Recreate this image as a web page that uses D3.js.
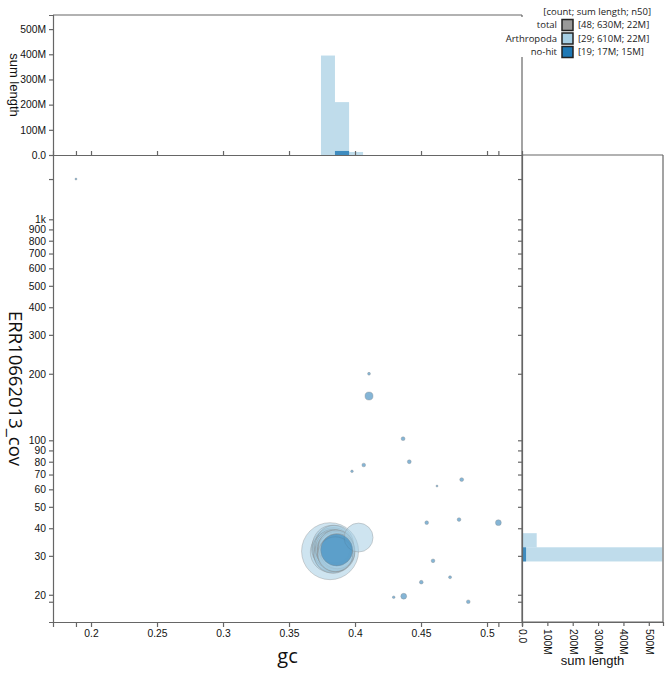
<!DOCTYPE html>
<html>
<head>
<meta charset="utf-8">
<script src="https://cdnjs.cloudflare.com/ajax/libs/d3/7.8.5/d3.min.js"></script>
<style>
  body { margin: 0; background: #fff; }
  .axis path, .axis line { stroke: #666; stroke-width: 1.2; }
  .axis text { font-family: "Liberation Sans", Arial, sans-serif; font-size: 10.3px; fill: #111; }
</style>
</head>
<body>
<div id="chart"></div>
<script>
// blob plot: gc vs coverage, with sum length histograms

// no-hit contigs
var nohitGc  = [0.1886, 0.4106, 0.4106, 0.4364, 0.4411, 0.4066, 0.3977, 0.4621, 0.4808, 0.4543, 0.4788, 0.5086, 0.4591, 0.4720, 0.4502, 0.4293, 0.4369, 0.4858, 0.3861];
var nohitCov = [1521, 200, 158.6, 101.7, 80, 77.3, 72.4, 62.1, 66.4, 42.4, 43.8, 42.4, 28.5, 24.0, 22.8, 19.5, 19.7, 18.6, 31.9];
var nohitLen = [0.06, 0.12, 0.94, 0.22, 0.22, 0.2, 0.1, 0.06, 0.22, 0.2, 0.2, 0.5, 0.2, 0.13, 0.2, 0.1, 0.5, 0.2, 15.0];

// Arthropoda contigs
var arthGc  = [0.3811, 0.4027, 0.3815, 0.3822, 0.3828, 0.3831, 0.3835, 0.3838, 0.3840, 0.3842, 0.3845, 0.3827, 0.3819, 0.3836,
               0.3833, 0.3829, 0.3844, 0.3839, 0.3850, 0.3853, 0.3856, 0.3860, 0.3852, 0.3858, 0.3863, 0.3849, 0.3855, 0.3867, 0.3851];
var arthCov = [31.5, 36.3, 31.2, 32.4, 33.6, 31.8, 32.9, 30.6, 32.2, 31.0, 33.9, 30.9, 32.0, 31.4,
               32.6, 30.4, 31.7, 32.3, 31.9, 31.1, 32.5, 30.8, 31.6, 32.1, 31.3, 30.7, 32.7, 31.5, 30.5];
var arthLen = [47.6, 12.3, 24.1, 23.5, 22.8, 22.0, 22.0, 21.6, 21.3, 21.0, 20.8, 20.6, 20.4, 20.3,
               20.1, 20.0, 19.8, 19.6, 19.5, 19.3, 19.2, 19.0, 18.9, 18.7, 18.5, 18.4, 18.2, 18.0, 17.8];

// sum length histograms (M)
var gcBinEdges = [0.3742, 0.3848, 0.3955, 0.4061];
var gcArthSum  = [395, 210, 12];
var gcNohitSum = [0, 16, 0];
var covBinEdges = [28.3, 32.8, 38.0];
var covArthSum  = [553, 58];
var covNohitSum = [16, 0];

var gcTicks = [0.2, 0.25, 0.3, 0.35, 0.4, 0.45, 0.5];
var covTicks = [20, 30, 40, 50, 60, 70, 80, 90, 100, 200, 300, 400, 500, 600, 700, 800, 900, 1000];
var lenTicks = [0, 100, 200, 300, 400, 500];

var legendNames = ["total", "Arthropoda", "no-hit"];
var legendStats = ["[48; 630M; 22M]", "[29; 610M; 22M]", "[19; 17M; 15M]"];
var legendColors = ["#999999", "#a6cee3", "#1f78b4"];

var W = 671, H = 678;
var pLeft = 53, pRight = 522, pTop = 155, pBottom = 622, histTop = 15, histRight = 663;

var svg = d3.select("#chart").append("svg")
    .attr("width", W)
    .attr("height", H);

var x = d3.scaleLinear().domain([0.1712, 0.5265]).range([pLeft, pRight]);
var y = d3.scaleLog().domain([15.06, 1954]).range([pBottom, pTop]);
var hy = d3.scaleLinear().domain([0, 556]).range([pTop, histTop]);
var hx = d3.scaleLinear().domain([0, 556]).range([pRight, histRight]);
var r = d3.scaleSqrt().domain([0, 47.6]).range([0, 28.5]);

var lenFmt = function(d) { return d === 0 ? "0.0" : d + "M"; };
var covFmt = function(d) { return d >= 1000 ? (d / 1000) + "k" : d; };
var gcFmt = function(d) { return +d.toFixed(2); };

// extra ticks at data extremes
var allGc = nohitGc.concat(arthGc), allCov = nohitCov.concat(arthCov);
var gcTickVals = gcTicks.concat(d3.extent(allGc));
var covTickVals = covTicks.concat(d3.extent(allCov));

svg.append("clipPath").attr("id", "mainClip")
  .append("rect").attr("x", pLeft).attr("y", pTop).attr("width", pRight - pLeft).attr("height", pBottom - pTop);
svg.append("clipPath").attr("id", "rightClip")
  .append("rect").attr("x", pRight).attr("y", pTop).attr("width", histRight - pRight).attr("height", pBottom - pTop);
svg.append("clipPath").attr("id", "topClip")
  .append("rect").attr("x", pLeft).attr("y", histTop).attr("width", pRight - pLeft).attr("height", pTop - histTop);

// top histogram
var topG = svg.append("g").attr("clip-path", "url(#topClip)");
topG.selectAll(".tl").data(gcArthSum).enter().append("rect")
    .attr("x", function(d, i) { return x(gcBinEdges[i]); })
    .attr("width", function(d, i) { return x(gcBinEdges[i + 1]) - x(gcBinEdges[i]); })
    .attr("y", function(d) { return hy(d); })
    .attr("height", function(d) { return hy(0) - hy(d); })
    .attr("fill", "#a6cee3").attr("fill-opacity", 0.72);
topG.selectAll(".td").data(gcNohitSum).enter().append("rect")
    .attr("x", function(d, i) { return x(gcBinEdges[i]); })
    .attr("width", function(d, i) { return x(gcBinEdges[i + 1]) - x(gcBinEdges[i]); })
    .attr("y", function(d) { return hy(d); })
    .attr("height", function(d) { return hy(0) - hy(d); })
    .attr("fill", "#1f78b4").attr("fill-opacity", 0.8);

// right histogram
var rightG = svg.append("g").attr("clip-path", "url(#rightClip)");
rightG.selectAll(".rl").data(covArthSum).enter().append("rect")
    .attr("y", function(d, i) { return y(covBinEdges[i + 1]); })
    .attr("height", function(d, i) { return y(covBinEdges[i]) - y(covBinEdges[i + 1]); })
    .attr("x", hx(0))
    .attr("width", function(d) { return hx(d) - hx(0); })
    .attr("fill", "#a6cee3").attr("fill-opacity", 0.72);
rightG.selectAll(".rd").data(covNohitSum).enter().append("rect")
    .attr("y", function(d, i) { return y(covBinEdges[i + 1]); })
    .attr("height", function(d, i) { return y(covBinEdges[i]) - y(covBinEdges[i + 1]); })
    .attr("x", hx(0))
    .attr("width", function(d) { return hx(d) - hx(0); })
    .attr("fill", "#1f78b4").attr("fill-opacity", 0.8);

// scatter
var mainG = svg.append("g").attr("clip-path", "url(#mainClip)");
var arth = d3.range(arthGc.length).map(function(i) { return {gc: arthGc[i], cov: arthCov[i], len: arthLen[i]}; });
var nohit = d3.range(nohitGc.length).map(function(i) { return {gc: nohitGc[i], cov: nohitCov[i], len: nohitLen[i]}; });
arth.sort(function(a, b) { return b.len - a.len; });
nohit.sort(function(a, b) { return b.len - a.len; });

function drawBlobs(data, color) {
  mainG.append("g").selectAll("circle").data(data).enter().append("circle")
      .attr("cx", function(d) { return x(d.gc); })
      .attr("cy", function(d) { return y(d.cov); })
      .attr("r", function(d) { return Math.max(1, r(d.len)); })
      .attr("fill", color).attr("fill-opacity", 0.55)
      .attr("stroke", "#888").attr("stroke-opacity", 0.5).attr("stroke-width", 0.7);
}
drawBlobs(arth, "#a6cee3");
drawBlobs(nohit, "#1f78b4");

// axes
svg.append("g").attr("class", "axis")
    .attr("transform", "translate(0," + pBottom + ")")
    .call(d3.axisBottom(x).tickValues(gcTickVals).tickSizeOuter(0).tickSize(5)
      .tickFormat(function(d) { return gcTicks.indexOf(d) >= 0 ? gcFmt(d) : ""; }));
svg.append("g").attr("class", "axis")
    .attr("transform", "translate(" + pLeft + ",0)")
    .call(d3.axisLeft(y).tickValues(covTickVals).tickSizeOuter(0).tickSize(4)
      .tickFormat(function(d) { return covTicks.indexOf(d) >= 0 ? covFmt(d) : ""; }));
// top histogram axes
svg.append("g").attr("class", "axis")
    .attr("transform", "translate(" + pLeft + ",0)")
    .call(d3.axisLeft(hy).tickValues(lenTicks).tickSizeOuter(0).tickSize(4).tickFormat(lenFmt));
svg.append("g").attr("class", "axis")
    .attr("transform", "translate(0," + pTop + ")")
    .call(d3.axisTop(x).tickValues(gcTickVals).tickSizeOuter(0).tickSize(4).tickFormat(""));
// right histogram axes
svg.append("g").attr("class", "axis")
    .attr("transform", "translate(" + pRight + ",0)")
    .call(d3.axisLeft(y).tickValues(covTickVals).tickSizeOuter(0).tickSize(4).tickFormat(""));
var rb = svg.append("g").attr("class", "axis")
    .attr("transform", "translate(0," + pBottom + ")")
    .call(d3.axisBottom(hx).tickValues(lenTicks).tickSizeOuter(0).tickSize(4).tickFormat(lenFmt));
rb.selectAll("text")
    .attr("transform", "rotate(90)")
    .attr("x", 7).attr("y", 0).attr("dy", "0.35em")
    .style("text-anchor", "start");

// frame lines
var frame = [
  [pLeft, histTop, pRight, histTop],
  [pRight, histTop, pRight, pBottom],
  [pRight, pTop, histRight, pTop],
  [histRight, pTop, histRight, pBottom],
  [pRight, pBottom, histRight, pBottom]
];
svg.append("g").selectAll("line").data(frame).enter().append("line")
    .attr("x1", function(d) { return d[0]; }).attr("y1", function(d) { return d[1]; })
    .attr("x2", function(d) { return d[2]; }).attr("y2", function(d) { return d[3]; })
    .attr("stroke", "#666").attr("stroke-width", 1.2);

// axis titles
svg.append("text")
    .attr("x", (pLeft + pRight) / 2).attr("y", 663)
    .attr("text-anchor", "middle")
    .style("font-family", "'Open Sans', sans-serif").style("font-size", "20px").style("fill", "#111")
    .text("gc");
svg.append("text")
    .attr("transform", "translate(9," + ((pTop + pBottom) / 2) + ") rotate(90)")
    .attr("text-anchor", "middle")
    .style("font-family", "'Open Sans', sans-serif").style("font-size", "18.5px").style("fill", "#111")
    .text("ERR10662013_cov");
svg.append("text")
    .attr("transform", "translate(9.5,85) rotate(90)")
    .attr("text-anchor", "middle")
    .style("font-family", "'Liberation Sans', Arial, sans-serif").style("font-size", "13px").style("fill", "#111")
    .text("sum length");
svg.append("text")
    .attr("x", (pRight + histRight) / 2).attr("y", 665)
    .attr("text-anchor", "middle")
    .style("font-family", "'Liberation Sans', Arial, sans-serif").style("font-size", "13px").style("fill", "#111")
    .text("sum length");

// legend
var leg = svg.append("g");
leg.append("rect").attr("x", 500).attr("y", 17).attr("width", W - 500).attr("height", 40).attr("fill", "#fff");
leg.append("text")
    .attr("x", 651).attr("y", 15).attr("text-anchor", "end")
    .style("font-family", "'Open Sans', sans-serif").style("font-size", "9.5px").style("fill", "#222")
    .text("[count; sum length; n50]");
var rows = leg.selectAll(".row").data(legendNames).enter().append("g")
    .attr("transform", function(d, i) { return "translate(0," + (25 + i * 13.5) + ")"; });
rows.append("text")
    .attr("x", 557).attr("dy", "0.35em").attr("text-anchor", "end")
    .style("font-family", "'Open Sans', sans-serif").style("font-size", "9.5px").style("fill", "#222")
    .text(function(d) { return d; });
rows.append("rect")
    .attr("x", 562).attr("y", -5.5).attr("width", 11).attr("height", 11)
    .attr("fill", function(d, i) { return legendColors[i]; })
    .attr("stroke", "#222").attr("stroke-width", 1.5);
rows.append("text")
    .attr("x", 578).attr("dy", "0.35em")
    .style("font-family", "'Open Sans', sans-serif").style("font-size", "9.5px").style("fill", "#222")
    .text(function(d, i) { return legendStats[i]; });
</script>
</body>
</html>
